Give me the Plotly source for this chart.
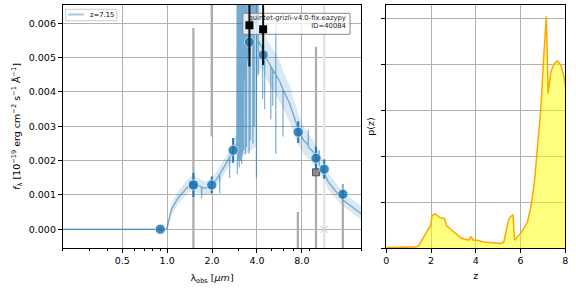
import numpy as np
import plotly.graph_objects as go

# ---------------- data (flux values in units of 1e-3) ----------------
spec_lam = [0.20, 0.99, 1.00, 1.065, 1.18, 1.305, 1.445, 1.60, 1.70, 1.702, 1.704, 1.77, 1.96, 2.17,
            2.25, 2.252, 2.254, 2.35, 2.53, 2.62, 2.622, 2.624, 2.73, 2.93,
            2.95, 2.955, 2.96, 2.99, 2.993, 2.996, 3.03, 3.037, 3.042, 3.05,
            3.10, 3.103, 3.106, 3.11, 3.153, 3.158, 3.165, 3.20, 3.203, 3.206,
            3.25, 3.253, 3.256, 3.26, 3.30, 3.343, 3.348, 3.355, 3.40, 3.403, 3.406,
            3.45, 3.537, 3.542, 3.55, 3.60, 3.603, 3.606, 3.65, 3.75, 3.755, 3.76,
            3.83, 3.833, 3.836, 3.90, 3.962, 3.967, 3.972, 4.042, 4.046, 4.081, 4.085, 4.09,
            4.30, 4.36, 4.362, 4.364, 4.50, 4.502, 4.504, 4.60, 4.79, 4.95, 4.952, 4.954,
            5.10, 5.102, 5.104, 5.35, 5.352, 5.355, 5.36, 5.70, 5.98, 5.982, 5.984,
            6.60, 7.00, 7.60, 8.20, 8.83, 8.835, 8.84,
            9.50, 10.45, 10.455, 10.46, 11.3, 12.0, 15.0, 20.0]
spec_flam = [0.0, 0.0, 0.05, 0.56, 0.91, 1.14, 1.34, 1.29, 1.23, 0.90, 1.22, 1.20, 1.24, 1.49,
             1.60, 1.05, 1.62, 1.73, 1.97, 2.10, 1.50, 2.10, 2.23, 2.50,
             9.0, 1.6, 2.7, 9.0, 2.0, 3.0, 3.2, 9.0, 1.8, 3.4,
             3.7, 9.0, 2.0, 3.7, 9.0, 1.9, 3.9, 9.0, 2.2, 4.1,
             4.3, 9.0, 2.3, 4.3, 4.5, 9.0, 2.2, 4.6, 9.0, 2.4, 4.8,
             5.0, 9.0, 2.2, 5.3, 9.0, 2.6, 5.4, 5.6, 9.0, 2.5, 5.8,
             9.0, 3.0, 5.9, 6.0, 9.0, 1.5, 6.0, 9.0, 5.8, 9.0, 4.5, 5.5,
             5.3, 5.2, 3.8, 5.2, 5.05, 3.5, 5.05, 5.0, 4.85, 4.75, 3.2, 4.75,
             4.65, 3.6, 4.65, 4.5, 6.2, 2.2, 4.5, 4.3, 4.07, 2.7, 4.07,
             3.68, 3.35, 2.9, 2.6, 2.45, 2.9, 2.4,
             2.26, 1.95, 2.3, 1.9, 1.62, 1.39, 0.86, 0.45]

band_lam = [0.20, 0.99, 1.03, 1.065, 1.18, 1.305, 1.445, 1.60, 1.77, 1.96,
            2.17, 2.35, 2.53, 2.73, 2.92, 2.95, 3.9, 4.0, 4.3, 4.6,
            5.0, 5.4, 5.7, 6.0, 6.6, 7.0, 7.6, 8.2, 9.5, 10.5,
            11.3, 12.0, 15.0, 20.0]
band_lo = [-0.03, -0.03, 0.15, 0.40, 0.72, 0.95, 1.12, 1.08, 1.00, 1.04,
           1.28, 1.52, 1.75, 2.00, 2.25, 2.0, 2.4, 4.4, 4.7, 4.4,
           4.1, 3.9, 3.7, 3.5, 3.15, 2.85, 2.45, 2.2, 1.9, 1.6,
           1.42, 1.15, 0.68, 0.28]
band_hi = [0.03, 0.03, 0.40, 0.72, 1.10, 1.35, 1.56, 1.50, 1.40, 1.45,
           1.70, 1.95, 2.20, 2.48, 2.80, 8.0, 8.0, 8.0, 5.9, 5.6,
           5.3, 5.1, 4.9, 4.6, 4.2, 3.85, 3.35, 3.0, 2.6, 2.25,
           1.95, 1.65, 1.08, 0.68]

filt_lam = [0.90, 1.50, 1.99, 2.77, 3.56, 4.40, 7.56, 9.95, 11.3, 15.06]
model_flux = [0.0, 1.29, 1.29, 2.30, 5.45, 5.08, 2.83, 2.07, 1.75, 1.02]
model_err = [0.05, 0.35, 0.25, 0.36, 0.30, 0.30, 0.32, 0.34, 0.28, 0.15]

obs_lam = [3.56, 4.40]
obs_flux = [5.94, 5.83]
obs_err = [1.20, 1.04]

lowsn_lam = [1.50, 1.99, 7.52, 9.95, 15.06]
lowsn_flux = [1.29, 6.90, -1.40, 1.66, -1.20]
lowsn_err = [4.57, 4.20, 1.90, 3.66, 2.52]

nodet_lam = [11.3]
nodet_flux = [0.0]
nodet_err = [8.0]

z_grid = [0.0, 1.30, 1.45, 1.99, 2.04, 2.18, 2.40, 2.60, 2.70, 2.92, 3.14, 3.36, 3.69, 3.79, 3.88,
          4.10, 4.32, 5.13, 5.25, 5.46, 5.55, 5.66, 5.73, 5.84, 6.05, 6.31, 6.46, 6.61, 6.73,
          6.90, 7.05, 7.15, 7.23, 7.35, 7.50, 7.64, 7.79, 7.94, 8.0]
pz = [0.01, 0.02, 0.05, 0.50, 0.70, 0.74, 0.66, 0.64, 0.48, 0.38, 0.30, 0.21, 0.17, 0.25, 0.17,
      0.17, 0.13, 0.10, 0.13, 0.60, 0.68, 0.72, 0.17, 0.23, 0.35, 0.57, 0.90, 1.40, 2.06,
      3.0, 4.3, 5.04, 3.36, 3.83, 4.0, 4.07, 3.98, 3.72, 3.5]

id_text = "quintet-grizli-v4.0-fix.eazypy<br>ID=40084"
legend_text = "z=7.15"

SC = 1e-3
W, H = 576, 288
FONT = "DejaVu Sans"
XLOG0, XLOG1 = np.log10(0.2), np.log10(20)
Y0, Y1 = -0.000545, 0.006533
X0P, X1P = 60.5, 362.0
T0P, B0P = 5.0, 248.0


def px(x):
    return x / W


def py(y):
    return 1 - y / H


def pix2lam(xp):
    return 10 ** (XLOG0 + (xp - X0P) / (X1P - X0P) * (XLOG1 - XLOG0))


def pix2f(yp):
    return Y1 - (yp - T0P) / (B0P - T0P) * (Y1 - Y0)


fig = go.Figure()

# uncertainty band
fig.add_trace(go.Scatter(x=band_lam, y=np.array(band_lo) * SC, mode="lines", line=dict(width=0),
                         showlegend=False, hoverinfo="skip", xaxis="x", yaxis="y"))
fig.add_trace(go.Scatter(x=band_lam, y=np.array(band_hi) * SC, mode="lines", line=dict(width=0),
                         fill="tonexty", fillcolor="rgba(31,119,180,0.17)",
                         showlegend=False, hoverinfo="skip", xaxis="x", yaxis="y"))

# low S/N photometry (gray)
fig.add_trace(go.Scatter(x=lowsn_lam, y=np.array(lowsn_flux) * SC, mode="markers",
                         marker=dict(symbol="square", size=7, color="#8a8a8a",
                                     line=dict(color="#555555", width=1)),
                         error_y=dict(type="data", array=np.array(lowsn_err) * SC, color="#ababab",
                                      thickness=2.2, width=0),
                         showlegend=False, xaxis="x", yaxis="y"))
fig.add_trace(go.Scatter(x=nodet_lam, y=np.array(nodet_flux) * SC, mode="markers",
                         marker=dict(symbol="x-thin", size=7, color="#d8d8d8",
                                     line=dict(color="#d8d8d8", width=1.2)),
                         error_y=dict(type="data", array=np.array(nodet_err) * SC, color="#e3e3e3",
                                      thickness=2.2, width=0),
                         showlegend=False, xaxis="x", yaxis="y"))

# model spectrum
fig.add_trace(go.Scatter(x=spec_lam, y=np.array(spec_flam) * SC, mode="lines",
                         line=dict(color="rgba(31,119,180,0.55)", width=1.3),
                         name=legend_text, showlegend=False, xaxis="x", yaxis="y"))

# model photometry
fig.add_trace(go.Scatter(x=filt_lam, y=np.array(model_flux) * SC, mode="markers",
                         marker=dict(symbol="circle", size=10, color="rgba(31,119,180,0.85)",
                                     line=dict(color="rgba(255,255,255,0.6)", width=1)),
                         error_y=dict(type="data", array=np.array(model_err) * SC, color="#1f77b4",
                                      thickness=2, width=0),
                         showlegend=False, xaxis="x", yaxis="y"))

# id box + text (above the spectrum, beneath the black squares)
bx0, bx1, by0, by1 = pix2lam(242.3), pix2lam(350.7), pix2f(34.3), pix2f(13.3)
fig.add_trace(go.Scatter(x=[bx0, bx1, bx1, bx0, bx0], y=[by0, by0, by1, by1, by0], mode="lines",
                         fill="toself", fillcolor="rgba(255,255,255,0.75)",
                         line=dict(color="#888888", width=1),
                         showlegend=False, hoverinfo="skip", xaxis="x", yaxis="y"))
fig.add_trace(go.Scatter(x=[pix2lam(346.5)], y=[pix2f(14.5)], mode="text", text=[id_text],
                         textposition="bottom left",
                         textfont=dict(family=FONT, size=6.8, color="#222222"),
                         showlegend=False, hoverinfo="skip", cliponaxis=False, xaxis="x", yaxis="y"))

# observed (black)
fig.add_trace(go.Scatter(x=obs_lam, y=np.array(obs_flux) * SC, mode="markers",
                         marker=dict(symbol="square", size=8, color="black"),
                         error_y=dict(type="data", array=np.array(obs_err) * SC, color="#111111",
                                      thickness=2, width=0),
                         showlegend=False, xaxis="x", yaxis="y"))

# p(z)
fig.add_trace(go.Scatter(x=z_grid, y=pz, mode="lines", line=dict(color="#ffa500", width=1.5),
                         fill="tozeroy", fillcolor="rgba(255,255,0,0.5)",
                         showlegend=False, xaxis="x2", yaxis="y2"))

ax_common = dict(showline=True, linecolor="black", linewidth=1, mirror=True, ticks="outside",
                 ticklen=4, tickcolor="black", gridcolor="#b0b0b0", gridwidth=1, zeroline=False,
                 tickfont=dict(family=FONT, size=9.5, color="black"))

ydom = [1 - B0P / H, 1 - T0P / H]

fig.update_layout(
    width=W, height=H, margin=dict(l=0, r=0, t=0, b=0),
    paper_bgcolor="white", plot_bgcolor="white",
    font=dict(family=FONT, size=9.5, color="black"),
    showlegend=False,
    xaxis=dict(ax_common, type="log", range=[XLOG0, XLOG1],
               domain=[X0P / W, X1P / W], anchor="y",
               tickmode="array", tickvals=[0.5, 1, 2, 4, 8], ticktext=["0.5", "1.0", "2.0", "4.0", "8.0"],
               minor=dict(tickmode="array", tickvals=[0.2, 0.3, 0.4, 0.6, 0.7, 0.8, 0.9, 3, 5, 6, 7, 9, 20],
                          ticks="outside", ticklen=2, tickcolor="black", showgrid=False),
               title=dict(text="λ<sub>obs</sub> [<i>μm</i>]", standoff=8,
                          font=dict(family=FONT, size=9.5))),
    yaxis=dict(ax_common, range=[Y0, Y1], domain=ydom, anchor="x",
               tickmode="array", tickvals=[0, 0.001, 0.002, 0.003, 0.004, 0.005, 0.006],
               tickformat=".3f",
               title=dict(text="<i>f</i><sub>λ</sub> [10<sup>−19</sup> erg cm<sup>−2</sup> s<sup>−1</sup> Å<sup>−1</sup>]",
                          standoff=6, font=dict(family=FONT, size=9.5))),
    xaxis2=dict(ax_common, range=[0, 8], domain=[387.3 / W, 568.3 / W], anchor="y2",
                tickmode="array", tickvals=[0, 2, 4, 6, 8],
                title=dict(text="z", standoff=6, font=dict(family=FONT, size=9.5))),
    yaxis2=dict(ax_common, range=[0, 5.283], domain=ydom, anchor="x2",
                tickmode="array", tickvals=[0, 1, 2, 3, 4, 5], showticklabels=False,
                title=dict(text="p(z)", standoff=4, font=dict(family=FONT, size=9.5))),
)

# legend box (manual)
fig.add_shape(type="rect", xref="paper", yref="paper", x0=px(63.3), x1=px(115), y0=py(20.7), y1=py(9.3),
              line=dict(color="#cccccc", width=1), fillcolor="rgba(255,255,255,0.8)")
fig.add_shape(type="line", xref="paper", yref="paper", x0=px(65.7), x1=px(81.7), y0=py(14.5), y1=py(14.5),
              line=dict(color="rgba(31,119,180,0.4)", width=2))
fig.add_annotation(xref="paper", yref="paper", x=px(85.5), y=py(15), xanchor="left", yanchor="middle",
                   text=legend_text, showarrow=False, font=dict(family=FONT, size=6.8, color="black"))

fig.write_html("out.html")
